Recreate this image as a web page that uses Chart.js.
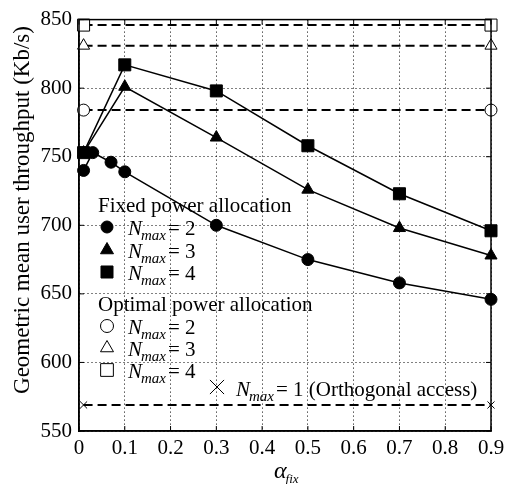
<!DOCTYPE html>
<html>
<head>
<meta charset="utf-8">
<script src="https://cdn.jsdelivr.net/npm/chart.js@4/dist/chart.umd.min.js"></script>
<style>
  html, body { margin: 0; padding: 0; background: #fff; }
  #wrap { width: 511px; height: 484px; }
</style>
</head>
<body>
<div id="wrap"><canvas id="chart" width="511" height="484"></canvas></div>
<script>
// alpha_fix values and throughput (Kb/s)
const ALPHA_N2 = [0.01, 0.03, 0.07, 0.1, 0.3, 0.5, 0.7, 0.9];
const FIXED_N2 = [740, 753, 746, 739, 700, 675, 658, 646];
const ALPHA_N34 = [0.01, 0.1, 0.3, 0.5, 0.7, 0.9];
const FIXED_N3 = [753, 801, 764, 726, 698, 678];
const FIXED_N4 = [753, 817, 798, 758, 723, 696];
const ALPHA_ENDS = [0.01, 0.9];
const OPTIMAL_N2 = 784;
const OPTIMAL_N3 = 831;
const OPTIMAL_N4 = 846;
const ORTHOGONAL_N1 = 569;
const X_TICKS = [0, 0.1, 0.2, 0.3, 0.4, 0.5, 0.6, 0.7, 0.8, 0.9];
const Y_TICKS = [550, 600, 650, 700, 750, 800, 850];

const SERIF = '"Liberation Serif", "Times New Roman", serif';
const pts = (xs, ys) => xs.map((x, i) => ({ x, y: ys[i] }));
const flat = (y) => ALPHA_ENDS.map((x) => ({ x, y }));

function solidSet(label, data, style, radius) {
  return {
    label, data, showLine: true, clip: false,
    borderColor: "#000", borderWidth: 1.5,
    pointStyle: style, pointRadius: radius, pointHoverRadius: radius,
    pointBackgroundColor: "#000", pointBorderColor: "#000", pointBorderWidth: 1,
  };
}

function dashedSet(label, data, style, radius) {
  return {
    label, data, showLine: true, clip: false,
    borderColor: "#000", borderWidth: 2, borderDash: [9, 5],
    pointStyle: style, pointRadius: radius, pointHoverRadius: radius,
    pointBackgroundColor: "#fff", pointBorderColor: "#000", pointBorderWidth: 1,
  };
}

// N_max label: italic N, italic subscript "max", then "= n"
function drawNmax(ctx, x, cy, n) {
  const base = cy + 7;
  ctx.textAlign = "left";
  ctx.textBaseline = "alphabetic";
  ctx.font = "italic 21px " + SERIF;
  ctx.fillText("N", x, base);
  const w1 = ctx.measureText("N").width;
  ctx.font = "italic 15px " + SERIF;
  ctx.fillText("max", x + w1 - 1, base + 5);
  const w2 = ctx.measureText("max").width;
  ctx.font = "21px " + SERIF;
  const rest = "= " + n;
  ctx.fillText(rest, x + w1 + w2 + 1, base);
  return x + w1 + w2 + 1 + ctx.measureText(rest).width;
}

const decorPlugin = {
  id: "decor",
  afterDraw(chart) {
    const ctx = chart.ctx;
    const a = chart.chartArea;
    const xs = chart.scales.x, ys = chart.scales.y;
    const dp = Chart.helpers.drawPoint;
    ctx.save();
    ctx.fillStyle = "#000";
    ctx.strokeStyle = "#000";

    // frame and inward ticks on all sides
    ctx.lineWidth = 1.5;
    ctx.strokeRect(a.left, a.top, a.right - a.left, a.bottom - a.top);
    ctx.lineWidth = 1;
    ctx.beginPath();
    for (const v of X_TICKS) {
      const px = xs.getPixelForValue(v);
      ctx.moveTo(px, a.bottom); ctx.lineTo(px, a.bottom - 5);
      ctx.moveTo(px, a.top); ctx.lineTo(px, a.top + 5);
    }
    for (const v of Y_TICKS) {
      const py = ys.getPixelForValue(v);
      ctx.moveTo(a.left, py); ctx.lineTo(a.left + 5, py);
      ctx.moveTo(a.right, py); ctx.lineTo(a.right - 5, py);
    }
    ctx.stroke();

    // y-axis title
    ctx.save();
    ctx.translate(23, 210);
    ctx.rotate(-Math.PI / 2);
    ctx.font = "23px " + SERIF;
    ctx.textAlign = "center";
    ctx.textBaseline = "middle";
    ctx.fillText("Geometric mean user throughput (Kb/s)", 0, 0);
    ctx.restore();

    // x-axis title: alpha_fix
    ctx.textAlign = "left";
    ctx.textBaseline = "alphabetic";
    ctx.font = "italic 24px " + SERIF;
    ctx.fillText("\u03B1", 274, 478);
    const aw = ctx.measureText("\u03B1").width;
    ctx.font = "italic 13px " + SERIF;
    ctx.fillText("fix", 274 + aw - 1, 483);

    // legend
    ctx.font = "21px " + SERIF;
    ctx.fillText("Fixed power allocation", 98, 212);
    ctx.fillText("Optimal power allocation", 98, 311);

    const filled = { fill: "#000", line: "#000" };
    const open = { fill: "#fff", line: "#000" };
    const rows = [
      ["circle", 6, 227, filled, 2],
      ["triangle", 7.5, 250, filled, 3],
      ["rect", 8.5, 272, filled, 4],
      ["circle", 6.5, 326, open, 2],
      ["triangle", 7.5, 348, open, 3],
      ["rect", 9, 370, open, 4],
    ];
    for (const [style, r, cy, col, n] of rows) {
      ctx.fillStyle = col.fill;
      ctx.strokeStyle = col.line;
      ctx.lineWidth = 1;
      dp(ctx, { pointStyle: style, radius: r, rotation: 0, borderWidth: 1 }, 107, cy);
      ctx.fillStyle = "#000";
      drawNmax(ctx, 128, cy + 1, n);
    }
    ctx.strokeStyle = "#000";
    ctx.lineWidth = 1;
    dp(ctx, { pointStyle: "crossRot", radius: 10, rotation: 0, borderWidth: 1 }, 217, 387);
    ctx.fillStyle = "#000";
    const end = drawNmax(ctx, 236, 389, 1);
    ctx.font = "21px " + SERIF;
    ctx.fillText(" (Orthogonal access)", end, 396);

    ctx.restore();
  },
};

new Chart(document.getElementById("chart"), {
  type: "scatter",
  data: {
    datasets: [
      dashedSet("Optimal N=4", flat(OPTIMAL_N4), "rect", 8.5),
      dashedSet("Optimal N=3", flat(OPTIMAL_N3), "triangle", 7),
      dashedSet("Optimal N=2", flat(OPTIMAL_N2), "circle", 6),
      dashedSet("Orthogonal N=1", flat(ORTHOGONAL_N1), "crossRot", 5),
      solidSet("Fixed N=2", pts(ALPHA_N2, FIXED_N2), "circle", 6),
      solidSet("Fixed N=3", pts(ALPHA_N34, FIXED_N3), "triangle", 7),
      solidSet("Fixed N=4", pts(ALPHA_N34, FIXED_N4), "rect", 8.5),
    ],
  },
  options: {
    responsive: false,
    animation: false,
    devicePixelRatio: 1,
    layout: { padding: { top: 19, right: 20, left: 0, bottom: 0 } },
    plugins: { legend: { display: false }, tooltip: { enabled: false } },
    scales: {
      x: {
        type: "linear", min: 0, max: 0.9,
        afterBuildTicks: (s) => { s.ticks = X_TICKS.map((v) => ({ value: v })); },
        afterFit: (s) => { s.height = 53; },
        ticks: {
          color: "#000", padding: 5, maxRotation: 0, autoSkip: false,
          font: { family: SERIF, size: 21 },
          callback: (v) => (v === 0 ? "0" : v.toFixed(1)),
        },
        grid: { color: "#000", lineWidth: 1, drawTicks: false, tickLength: 0 },
        border: { display: true, color: "#000", width: 1.5, dash: [1, 3] },
      },
      y: {
        type: "linear", min: 550, max: 850,
        afterBuildTicks: (s) => { s.ticks = Y_TICKS.map((v) => ({ value: v })); },
        afterFit: (s) => { s.width = 79; },
        ticks: {
          color: "#000", padding: 7, autoSkip: false,
          font: { family: SERIF, size: 21 },
        },
        grid: { color: "#000", lineWidth: 1, drawTicks: false, tickLength: 0 },
        border: { display: true, color: "#000", width: 1.5, dash: [1, 3] },
      },
    },
  },
  plugins: [decorPlugin],
});
</script>
</body>
</html>
